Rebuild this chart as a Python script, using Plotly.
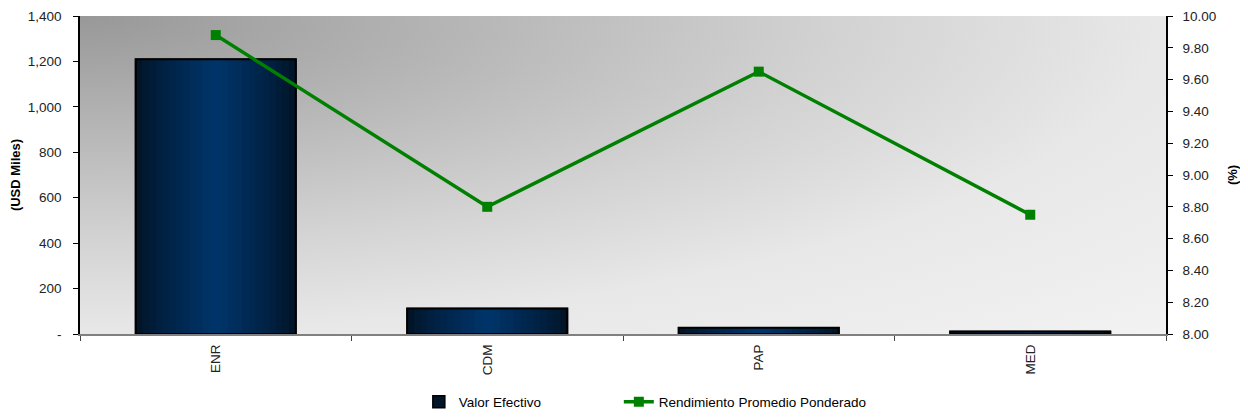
import plotly.graph_objects as go

categories = ["ENR", "CDM", "PAP", "MED"]
valor_efectivo = [1210, 112, 27, 11]
rendimiento = [9.88, 8.80, 9.65, 8.75]

left_tickvals = [0, 200, 400, 600, 800, 1000, 1200, 1400]
left_ticktext = ["-", "200", "400", "600", "800", "1,000", "1,200", "1,400"]
right_tickvals = [8.0, 8.2, 8.4, 8.6, 8.8, 9.0, 9.2, 9.4, 9.6, 9.8, 10.0]

FONT = "Liberation Sans, Arial, sans-serif"

def lerp_color(c1, c2, t):
    return "rgb(%d,%d,%d)" % tuple(round(a + (b - a) * t) for a, b in zip(c1, c2))

edge = (1, 20, 40)
center = (0, 52, 104)

fig = go.Figure()
n_layers = 12
full_w = 0.59
for k in range(n_layers):
    t = k / (n_layers - 1)
    w = full_w * (1 - t * 0.92)
    fig.add_trace(go.Bar(
        x=categories, y=valor_efectivo, width=w,
        marker=dict(color=lerp_color(edge, center, t ** 0.8),
                    line=dict(color="black", width=1.5 if k == 0 else 0)),
        name="Valor Efectivo", legendgroup="ve", showlegend=(k == 0),
        legendwidth=155,
        hoverinfo="skip" if k else None,
    ))
# outline on top
fig.add_trace(go.Bar(
    x=categories, y=valor_efectivo, width=full_w,
    marker=dict(color="rgba(0,0,0,0)", line=dict(color="black", width=2)),
    legendgroup="ve", showlegend=False, hoverinfo="skip",
))
fig.add_trace(go.Scatter(
    x=categories, y=rendimiento, yaxis="y2", mode="lines+markers",
    name="Rendimiento Promedio Ponderado", legendwidth=225,
    line=dict(color="#008000", width=3.5),
    marker=dict(symbol="square", size=10, color="#008000"),
))

svg = ("data:image/svg+xml;utf8,"
       "<svg xmlns='http://www.w3.org/2000/svg' width='100' height='100' preserveAspectRatio='none'>"
       "<defs><radialGradient id='g' cx='0' cy='0' r='1.41' fx='0' fy='0'>"
       "<stop offset='0' stop-color='%23989898'/>"
       "<stop offset='0.354' stop-color='%23c2c2c2'/>"
       "<stop offset='0.5' stop-color='%23d3d3d3'/>"
       "<stop offset='0.707' stop-color='%23e8e8e8'/>"
       "<stop offset='1' stop-color='%23f2f2f2'/>"
       "</radialGradient></defs>"
       "<rect width='100' height='100' fill='url(%23g)'/></svg>")

fig.update_layout(
    width=1232, height=402,
    margin=dict(l=72, r=74, t=8, b=76, autoexpand=False),
    paper_bgcolor="white",
    plot_bgcolor="rgba(0,0,0,0)",
    barmode="overlay",
    font=dict(family=FONT, size=13.5, color="#222"),
    images=[dict(source=svg, xref="paper", yref="paper", x=0, y=1,
                 sizex=1, sizey=1, sizing="stretch", layer="below")],
    xaxis=dict(
        type="category", tickangle=-90, ticks="outside", tickson="boundaries",
        ticklen=5, tickcolor="#444", showline=True, linecolor="#808080", linewidth=2,
        showgrid=False, zeroline=False, tickfont=dict(size=13.5, color="#222"),
        automargin=False, ticklabelstandoff=3,
    ),
    yaxis=dict(
        range=[0, 1400], tickvals=left_tickvals, ticktext=left_ticktext,
        ticks="outside", ticklen=5, tickcolor="black",
        showline=True, linecolor="black", linewidth=1.5, showgrid=False,
        zeroline=False, automargin=False, ticklabelstandoff=9,
        title=dict(text="<b>(USD Miles)</b>", font=dict(size=13, color="black"), standoff=13),
    ),
    yaxis2=dict(
        overlaying="y", side="right", range=[8, 10], tickvals=right_tickvals,
        tickformat=".2f", ticks="outside", ticklen=5, tickcolor="black",
        showline=True, linecolor="black", linewidth=1.5, showgrid=False,
        zeroline=False, automargin=False, ticklabelstandoff=7,
        title=dict(text="<b>(%)</b>", font=dict(size=13, color="black"), standoff=22),
    ),
    legend=dict(orientation="h", x=0.312, xanchor="left", y=-0.214, yanchor="middle",
                font=dict(size=13.5, color="black"), traceorder="normal"),
    showlegend=True,
)

fig.write_html("out.html")
